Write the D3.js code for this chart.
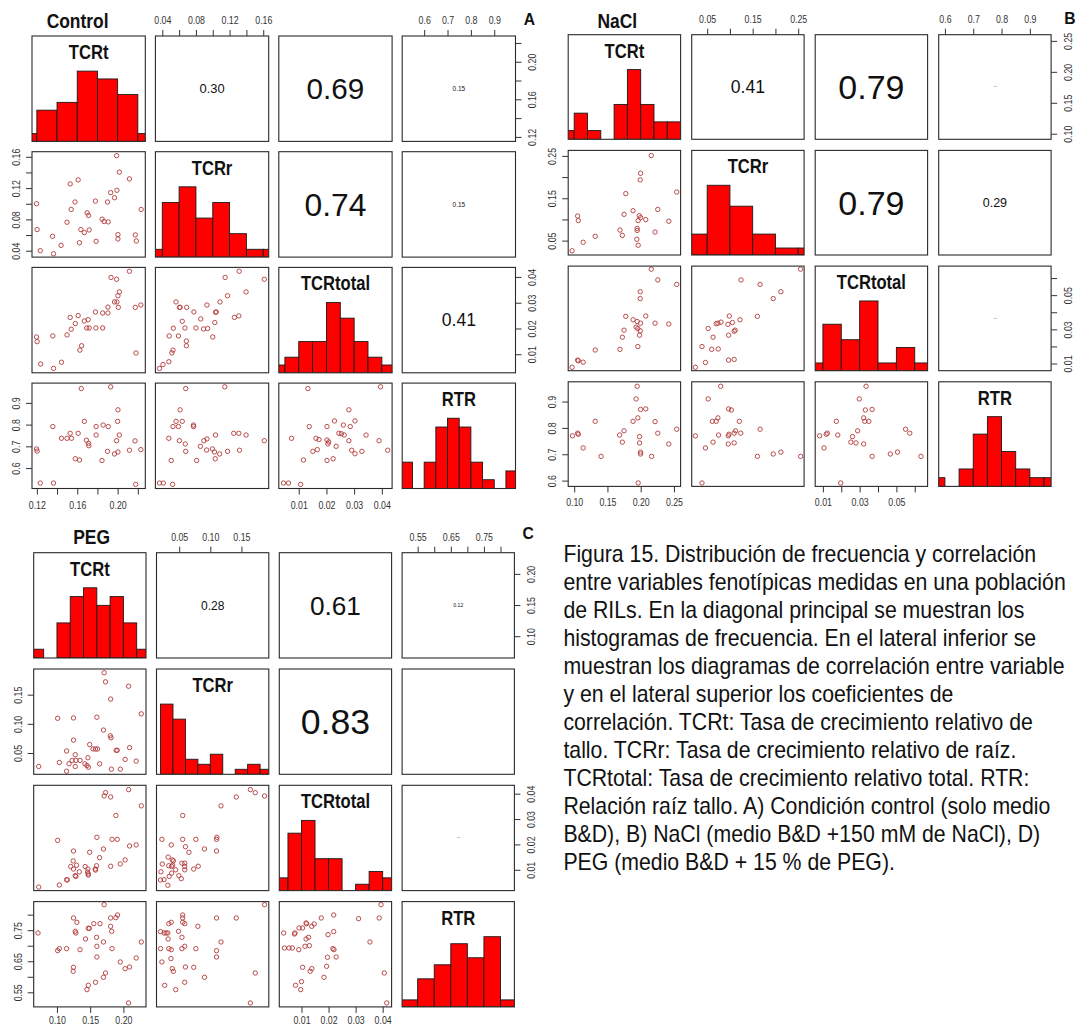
<!DOCTYPE html>
<html>
<head>
<meta charset="utf-8">
<script src="https://cdn.jsdelivr.net/npm/d3@7"></script>
<style>
  body { margin: 0; background: #fff; }
  svg text { font-family: "Liberation Sans", Arial, Helvetica, sans-serif; }
</style>
</head>
<body>
<svg id="fig" width="1079" height="1027"></svg>
<script>
// ---------------------------------------------------------------- data
var vars = ["TCRt", "TCRr", "TCRtotal", "RTR"];

// --- A) Control
var ctlDomain = [[0.1152, 0.2274], [0.0318, 0.1665], [0.0028, 0.0437], [0.506, 0.991]];
var ctlTicks = [[0.12, 0.14, 0.16, 0.18, 0.20, 0.22], [0.04, 0.06, 0.08, 0.10, 0.12, 0.14, 0.16], [0.01, 0.02, 0.03, 0.04], [0.6, 0.7, 0.8, 0.9]];
var ctlTickLabels = [["0.12", "", "0.16", "", "0.20", ""], ["0.04", "", "0.08", "", "0.12", "", "0.16"], ["0.01", "0.02", "0.03", "0.04"], ["0.6", "0.7", "0.8", "0.9"]];
var ctlBinStart = [0.10, 0.02, 0.0, 0.50];
var ctlBinWidth = [0.02, 0.02, 0.005, 0.05];
var ctlCounts = [[1, 4, 5, 9, 8, 6, 1], [1, 7, 9, 5, 7, 3, 1, 1], [1, 2, 4, 4, 9, 7, 4, 2, 1], [3, 0, 3, 7, 8, 7, 3, 1, 0, 2]];
var ctlCor = [0.30, 0.69, 0.15, 0.74, 0.15, 0.41];   // (1,2) (1,3) (1,4) (2,3) (2,4) (3,4)
var ctlP10 = [[0.199,0.1614],[0.2017,0.1403],[0.2117,0.1318],[0.153,0.1253],[0.1609,0.1305],[0.1931,0.1142],[0.1993,0.1172],[0.1969,0.1077],[0.1197,0.1],[0.1578,0.1022],[0.178,0.1034],[0.19,0.1022],[0.154,0.0927],[0.2233,0.0927],[0.1698,0.0884],[0.1712,0.085],[0.1499,0.0764],[0.1846,0.0803],[0.1866,0.0773],[0.1907,0.0768],[0.1203,0.067],[0.1636,0.067],[0.1718,0.0665],[0.167,0.0631],[0.1622,0.0502],[0.1787,0.052],[0.2003,0.0605],[0.2003,0.055],[0.2175,0.0601],[0.2185,0.0524],[0.1355,0.0584],[0.144,0.0468],[0.1234,0.04],[0.1365,0.0361]];
var ctlP20 = [[0.1197,0.0167],[0.1203,0.0149],[0.1238,0.0062],[0.1358,0.0171],[0.1365,0.0045],[0.1444,0.0069],[0.1499,0.0175],[0.153,0.0243],[0.154,0.0197],[0.1581,0.0219],[0.1609,0.025],[0.1626,0.0116],[0.1643,0.0133],[0.167,0.0229],[0.1694,0.0202],[0.1718,0.0202],[0.178,0.0264],[0.1784,0.0202],[0.1852,0.026],[0.1852,0.0202],[0.1904,0.026],[0.1904,0.0283],[0.1935,0.0398],[0.1969,0.0303],[0.199,0.0391],[0.1993,0.0303],[0.2003,0.0327],[0.2017,0.0342],[0.2007,0.0282],[0.2117,0.0422],[0.2175,0.0282],[0.2182,0.0105],[0.223,0.0291],[0.1708,0.0234]];
var ctlP30 = [[0.164,0.966],[0.1931,0.974],[0.2003,0.868],[0.2,0.815],[0.199,0.726],[0.2003,0.674],[0.2017,0.752],[0.1358,0.791],[0.153,0.76],[0.1444,0.737],[0.1499,0.737],[0.1543,0.737],[0.1609,0.76],[0.167,0.815],[0.1691,0.728],[0.1712,0.714],[0.1715,0.703],[0.1787,0.752],[0.1787,0.791],[0.1856,0.798],[0.1907,0.791],[0.1845,0.635],[0.19,0.677],[0.1969,0.665],[0.1581,0.643],[0.1622,0.637],[0.2117,0.682],[0.2172,0.725],[0.223,0.685],[0.1197,0.688],[0.1203,0.678],[0.1234,0.531],[0.1365,0.531],[0.2179,0.525]];
var ctlP21 = [[0.0367,0.0045],[0.0408,0.006],[0.0478,0.0071],[0.0514,0.0105],[0.0527,0.0116],[0.0482,0.0171],[0.0531,0.0201],[0.0563,0.0303],[0.0604,0.0282],[0.0612,0.0282],[0.0637,0.0228],[0.0669,0.0202],[0.0686,0.0133],[0.0686,0.0151],[0.069,0.0282],[0.0592,0.0171],[0.0776,0.0264],[0.08,0.0202],[0.0857,0.0237],[0.089,0.0198],[0.0931,0.0291],[0.0939,0.02],[0.1,0.0167],[0.1024,0.0223],[0.1033,0.0263],[0.1041,0.0264],[0.1086,0.0303],[0.1147,0.0398],[0.1176,0.0327],[0.1257,0.0243],[0.131,0.0249],[0.1314,0.0422],[0.1396,0.0342],[0.1612,0.0391]];
var ctlP31 = [[0.0678,0.966],[0.1143,0.974],[0.0612,0.868],[0.0563,0.815],[0.0637,0.815],[0.0527,0.791],[0.0592,0.791],[0.0771,0.791],[0.0771,0.798],[0.0478,0.737],[0.0604,0.726],[0.0673,0.711],[0.0853,0.7],[0.0894,0.726],[0.0931,0.734],[0.1033,0.752],[0.1249,0.76],[0.131,0.76],[0.1396,0.752],[0.1612,0.726],[0.0506,0.635],[0.0678,0.677],[0.0808,0.635],[0.0927,0.683],[0.0996,0.688],[0.102,0.674],[0.1029,0.643],[0.1082,0.665],[0.1176,0.677],[0.1318,0.682],[0.0367,0.531],[0.0412,0.531],[0.0522,0.525]];
var ctlP32 = [[0.0133,0.966],[0.0395,0.974],[0.0281,0.868],[0.0138,0.791],[0.0202,0.791],[0.0229,0.817],[0.0261,0.798],[0.0303,0.817],[0.0286,0.791],[0.0074,0.737],[0.0162,0.737],[0.0173,0.731],[0.0202,0.729],[0.0205,0.711],[0.0208,0.72],[0.0235,0.7],[0.0245,0.76],[0.0254,0.758],[0.0264,0.752],[0.0281,0.726],[0.0343,0.752],[0.039,0.726],[0.0117,0.637],[0.0151,0.677],[0.0167,0.685],[0.0202,0.635],[0.0224,0.643],[0.0291,0.682],[0.0303,0.666],[0.0328,0.677],[0.0421,0.682],[0.0045,0.531],[0.0063,0.531],[0.0107,0.525]];

// --- B) NaCl
var naclDomain = [[0.091, 0.260], [0.016, 0.263], [0.0058, 0.067], [0.578, 0.975]];
var naclTicks = [[0.10, 0.15, 0.20, 0.25], [0.05, 0.10, 0.15, 0.20, 0.25], [0.01, 0.02, 0.03, 0.04, 0.05, 0.06], [0.6, 0.7, 0.8, 0.9]];
var naclTickLabels = [["0.10", "0.15", "0.20", "0.25"], ["0.05", "", "0.15", "", "0.25"], ["0.01", "", "0.03", "", "0.05", ""], ["0.6", "0.7", "0.8", "0.9"]];
var naclBinStart = [0.08, 0.0, 0.0, 0.55];
var naclBinWidth = [0.02, 0.05, 0.01, 0.05];
var naclCounts = [[1, 3, 1, 0, 4, 8, 4, 2, 2], [3, 10, 7, 3, 1, 1], [1, 6, 4, 9, 1, 3, 1], [1, 0, 2, 6, 8, 4, 2, 1, 1]];
var naclCor = [0.41, 0.79, 0.03, 0.79, 0.29, 0.03];
var naclP10 = [[0.2159,0.2508],[0.1998,0.2089],[0.1993,0.1934],[0.1776,0.161],[0.2542,0.1647],[0.175,0.112],[0.1885,0.1205],[0.2257,0.1236],[0.1052,0.1081],[0.1062,0.0973],[0.1978,0.1089],[0.1998,0.1043],[0.2076,0.0996],[0.1962,0.0973],[0.2423,0.0957],[0.1688,0.0748],[0.1724,0.0624],[0.1947,0.0787],[0.1947,0.074],[0.2216,0.0702],[0.1316,0.0601],[0.1135,0.0461],[0.1942,0.0531],[0.1962,0.0391],[0.0969,0.026]];
var naclP20 = [[0.2159,0.0652],[0.2257,0.0589],[0.2542,0.0563],[0.1993,0.052],[0.1993,0.048],[0.1776,0.0376],[0.2076,0.0378],[0.1885,0.0356],[0.1947,0.0346],[0.1998,0.0336],[0.1957,0.0305],[0.2216,0.0336],[0.2423,0.0331],[0.175,0.0295],[0.1724,0.0254],[0.1993,0.0291],[0.1983,0.0266],[0.1316,0.0179],[0.1688,0.0183],[0.1957,0.0199],[0.1052,0.012],[0.1062,0.0116],[0.1135,0.0108],[0.0969,0.0078],[0.1931,0.0313]];
var naclP30 = [[0.1947,0.958],[0.1931,0.91],[0.1998,0.87],[0.2076,0.872],[0.1885,0.825],[0.1957,0.838],[0.2216,0.824],[0.1316,0.825],[0.1052,0.78],[0.1062,0.776],[0.0974,0.77],[0.1683,0.773],[0.175,0.789],[0.1724,0.746],[0.1983,0.767],[0.1983,0.743],[0.2257,0.78],[0.2423,0.739],[0.1135,0.724],[0.1404,0.692],[0.1998,0.708],[0.1998,0.701],[0.2164,0.692],[0.1962,0.591],[0.2542,0.795]];
var naclP21 = [[0.2553,0.0652],[0.1245,0.0589],[0.1663,0.0563],[0.212,0.052],[0.1952,0.048],[0.1603,0.0376],[0.0987,0.0378],[0.1222,0.0356],[0.0736,0.0336],[0.0698,0.0333],[0.0804,0.0342],[0.1055,0.034],[0.0956,0.0329],[0.0523,0.0305],[0.1116,0.0295],[0.1093,0.0289],[0.0629,0.0254],[0.0386,0.0199],[0.0599,0.0183],[0.0743,0.0185],[0.0462,0.0106],[0.0971,0.012],[0.1093,0.0124],[0.0241,0.0078],[0.0971,0.0266]];
var naclP31 = [[0.0797,0.958],[0.0523,0.91],[0.0971,0.872],[0.1032,0.868],[0.0736,0.838],[0.0614,0.825],[0.0698,0.825],[0.1207,0.825],[0.0241,0.77],[0.0462,0.724],[0.0629,0.746],[0.0751,0.773],[0.0964,0.77],[0.0979,0.776],[0.1093,0.78],[0.1124,0.789],[0.1238,0.78],[0.1093,0.743],[0.0964,0.739],[0.1663,0.795],[0.1603,0.692],[0.1952,0.701],[0.212,0.708],[0.2553,0.692],[0.0386,0.591]];
var naclP32 = [[0.0335,0.958],[0.0298,0.91],[0.0331,0.868],[0.0368,0.87],[0.0322,0.838],[0.0328,0.825],[0.035,0.825],[0.0173,0.825],[0.0082,0.77],[0.0118,0.776],[0.0124,0.78],[0.0181,0.773],[0.0289,0.789],[0.0106,0.724],[0.0252,0.746],[0.0261,0.767],[0.028,0.743],[0.0322,0.739],[0.055,0.795],[0.0573,0.78],[0.0368,0.692],[0.0467,0.701],[0.0506,0.708],[0.0634,0.692],[0.0197,0.591]];

// --- C) PEG
var pegDomain = [[0.065, 0.234], [0.0135, 0.194], [0.0018, 0.0433], [0.503, 0.842]];
var pegTicks = [[0.10, 0.15, 0.20], [0.05, 0.10, 0.15], [0.01, 0.02, 0.03, 0.04], [0.55, 0.60, 0.65, 0.70, 0.75, 0.80]];
var pegTickLabels = [["0.10", "0.15", "0.20"], ["0.05", "0.10", "0.15"], ["0.01", "0.02", "0.03", "0.04"], ["0.55", "", "0.65", "", "0.75", ""]];
var pegBinStart = [0.06, 0.02, 0.0, 0.50];
var pegBinWidth = [0.02, 0.02, 0.005, 0.05];
var pegCounts = [[1, 0, 4, 7, 8, 6, 7, 4, 1], [14, 11, 3, 2, 4, 0, 1, 2, 1], [2, 9, 11, 5, 5, 0, 1, 3, 2], [1, 4, 6, 9, 7, 10, 1]];
var pegCor = [0.28, 0.61, 0.12, 0.83, -0.05, 0.03];
var pegP10 = [[0.171,0.1876],[0.1731,0.172],[0.2078,0.1645],[0.1808,0.1425],[0.101,0.1095],[0.1249,0.1101],[0.1601,0.1113],[0.2269,0.1171],[0.17,0.0893],[0.1803,0.0795],[0.1813,0.076],[0.1249,0.072],[0.1492,0.0645],[0.1544,0.0569],[0.158,0.0569],[0.1611,0.0569],[0.1891,0.0546],[0.1907,0.0546],[0.2093,0.0592],[0.1145,0.0535],[0.1275,0.0471],[0.1228,0.0373],[0.1285,0.0373],[0.1347,0.0373],[0.1466,0.0419],[0.142,0.0315],[0.1036,0.0338],[0.1451,0.0286],[0.2192,0.0361],[0.2026,0.039],[0.1642,0.0315],[0.0725,0.0269],[0.1275,0.0269],[0.1472,0.0257],[0.1819,0.0223],[0.1953,0.0223],[0.1145,0.0188],[0.1181,0.0315]];
var pegP20 = [[0.2078,0.0416],[0.1731,0.0404],[0.171,0.0391],[0.1808,0.0387],[0.2269,0.0352],[0.1886,0.0314],[0.101,0.0216],[0.1601,0.0228],[0.1829,0.022],[0.1907,0.022],[0.1249,0.0174],[0.1492,0.0169],[0.17,0.0182],[0.2093,0.0194],[0.2192,0.0198],[0.1642,0.0148],[0.1244,0.0135],[0.2026,0.0139],[0.1295,0.0118],[0.1953,0.0123],[0.1425,0.0113],[0.1596,0.0116],[0.1249,0.0103],[0.1466,0.0103],[0.1575,0.0103],[0.1337,0.0092],[0.1461,0.0091],[0.1472,0.0084],[0.158,0.0099],[0.1275,0.0077],[0.1285,0.0074],[0.1145,0.0061],[0.1155,0.006],[0.1036,0.004],[0.0725,0.0032],[0.1808,0.0114],[0.1207,0.0113],[0.1472,0.0079]];
var pegP30 = [[0.171,0.8322],[0.1249,0.7893],[0.1912,0.7989],[0.1886,0.7903],[0.1808,0.7893],[0.13,0.7753],[0.1554,0.771],[0.1648,0.771],[0.1275,0.7464],[0.1285,0.741],[0.1472,0.756],[0.1487,0.756],[0.1808,0.7624],[0.1824,0.7464],[0.0715,0.741],[0.1596,0.727],[0.143,0.7217],[0.101,0.6841],[0.1036,0.6906],[0.1145,0.6906],[0.1347,0.6873],[0.1829,0.6906],[0.1601,0.6981],[0.17,0.712],[0.1601,0.6637],[0.1249,0.6305],[0.1244,0.6176],[0.1953,0.6476],[0.2026,0.6262],[0.2093,0.6315],[0.2192,0.6605],[0.2269,0.712],[0.1731,0.6122],[0.17,0.5983],[0.158,0.5822],[0.1472,0.5725],[0.1451,0.5586],[0.2078,0.5157]];
var pegP21 = [[0.1644,0.0416],[0.1722,0.0404],[0.1872,0.0391],[0.1417,0.0387],[0.1172,0.0352],[0.0556,0.0314],[0.0222,0.022],[0.0556,0.022],[0.0767,0.022],[0.11,0.022],[0.1106,0.0228],[0.0372,0.0198],[0.06,0.0191],[0.0656,0.0169],[0.0906,0.0182],[0.11,0.0174],[0.0228,0.0123],[0.0322,0.015],[0.0389,0.0139],[0.0406,0.0135],[0.0544,0.0126],[0.0589,0.0126],[0.0333,0.0116],[0.0378,0.0113],[0.0394,0.0118],[0.0589,0.0113],[0.0806,0.0114],[0.0733,0.0103],[0.0444,0.01],[0.0206,0.0092],[0.0378,0.0087],[0.0589,0.01],[0.0494,0.0077],[0.0533,0.0065],[0.0256,0.0061],[0.0339,0.0074],[0.02,0.006],[0.0317,0.0039]];
var pegP31 = [[0.1872,0.8322],[0.0556,0.7989],[0.0556,0.7893],[0.11,0.7893],[0.1417,0.7893],[0.0333,0.771],[0.0372,0.7753],[0.0556,0.7753],[0.0589,0.771],[0.08,0.7624],[0.02,0.7453],[0.0256,0.741],[0.0289,0.741],[0.0317,0.741],[0.0489,0.7464],[0.0544,0.727],[0.0322,0.7217],[0.0589,0.6981],[0.02,0.6906],[0.0333,0.6906],[0.0372,0.6873],[0.0544,0.6906],[0.0767,0.6906],[0.11,0.6841],[0.1172,0.712],[0.11,0.6637],[0.0367,0.6584],[0.0222,0.6476],[0.0389,0.6262],[0.0406,0.6176],[0.06,0.6315],[0.0733,0.6305],[0.0906,0.5983],[0.1722,0.6122],[0.0267,0.5725],[0.0589,0.5822],[0.0444,0.5586],[0.1644,0.5157]];
var pegP32 = [[0.0394,0.8322],[0.0219,0.7989],[0.0311,0.7871],[0.0387,0.7893],[0.0173,0.7893],[0.0119,0.771],[0.0117,0.7732],[0.0147,0.77],[0.0138,0.7624],[0.0104,0.7571],[0.0091,0.7571],[0.0076,0.741],[0.0074,0.7378],[0.0034,0.741],[0.0037,0.6927],[0.0054,0.6927],[0.0066,0.6927],[0.009,0.6873],[0.0113,0.6981],[0.0129,0.7002],[0.0126,0.727],[0.0117,0.7217],[0.0219,0.7453],[0.0198,0.7356],[0.0353,0.712],[0.0216,0.6906],[0.022,0.6873],[0.0228,0.6637],[0.0196,0.6627],[0.0104,0.6305],[0.0138,0.6262],[0.0132,0.6176],[0.0193,0.6337],[0.0183,0.5983],[0.0078,0.5725],[0.01,0.5843],[0.0097,0.5586],[0.0406,0.6122],[0.0415,0.5157]];

var captionLines = [
  "Figura 15. Distribución de frecuencia y correlación",
  "entre variables fenotípicas medidas en una población",
  "de RILs. En la diagonal principal se muestran los",
  "histogramas de frecuencia. En el lateral inferior se",
  "muestran los diagramas de correlación entre variable",
  "y en el lateral superior los coeficientes de",
  "correlación. TCRt: Tasa de crecimiento relativo de",
  "tallo. TCRr: Tasa de crecimiento relativo de raíz.",
  "TCRtotal: Tasa de crecimiento relativo total. RTR:",
  "Relación raíz tallo. A) Condición control (solo medio",
  "B&D), B) NaCl (medio B&D +150 mM de NaCl), D)",
  "PEG (medio B&D + 15 % de PEG)."
];

// ---------------------------------------------------------------- layout
var panels = [
  { id: "A", title: "Control", domains: ctlDomain, ticks: ctlTicks, tickLabels: ctlTickLabels,
    binStart: ctlBinStart, binWidth: ctlBinWidth, counts: ctlCounts, cor: ctlCor,
    pts: { "1-0": ctlP10, "2-0": ctlP20, "3-0": ctlP30, "2-1": ctlP21, "3-1": ctlP31, "3-2": ctlP32 },
    x0: 32, y0: 36, cw: 113.3, ch: 105.4, px: 123.4, py: 115.7, padBottom: 7,
    tx: 77.6, ty: 28.3, lx: 529.4, ly: 25 },
  { id: "B", title: "NaCl", domains: naclDomain, ticks: naclTicks, tickLabels: naclTickLabels,
    binStart: naclBinStart, binWidth: naclBinWidth, counts: naclCounts, cor: naclCor,
    pts: { "1-0": naclP10, "2-0": naclP20, "3-0": naclP30, "2-1": naclP21, "3-1": naclP31, "3-2": naclP32 },
    x0: 568.2, y0: 34.7, cw: 112.4, ch: 104.6, px: 123.5, py: 115.7, padBottom: 7,
    tx: 617.3, ty: 28.3, lx: 1069.8, ly: 24 },
  { id: "C", title: "PEG", domains: pegDomain, ticks: pegTicks, tickLabels: pegTickLabels,
    binStart: pegBinStart, binWidth: pegBinWidth, counts: pegCounts, cor: pegCor,
    pts: { "1-0": pegP10, "2-0": pegP20, "3-0": pegP30, "2-1": pegP21, "3-1": pegP31, "3-2": pegP32 },
    x0: 33.7, y0: 552.7, cw: 112.3, ch: 105.3, px: 122.8, py: 116.3, padBottom: 4,
    tx: 91.6, ty: 544.3, lx: 528.2, ly: 539 }
];

var svg = d3.select("#fig");
svg.append("rect").attr("width", 1079).attr("height", 1027).attr("fill", "#fff");

// index of the (i,j) pair in the correlation arrays
function corIndex(i, j) {
  var k = 0;
  for (var a = 0; a < 4; a++) for (var b = a + 1; b < 4; b++) { if (a === i && b === j) return k; k++; }
  return -1;
}

function drawPairs(p) {
  var n = vars.length;
  var sx = p.domains.map(function(d) { return d3.scaleLinear().domain(d).range([0, p.cw]); });
  var sy = p.domains.map(function(d) { return d3.scaleLinear().domain(d).range([p.ch, 0]); });
  var hy = d3.scaleLinear().domain([0, 1.5]).range([p.ch, 0]);   // hist rescaled like panel.hist
  var g = svg.append("g");

  for (var i = 0; i < n; i++) {
    for (var j = 0; j < n; j++) {
      var cell = g.append("g")
        .attr("transform", "translate(" + (p.x0 + j * p.px) + "," + (p.y0 + i * p.py) + ")");
      var clipId = "clip" + p.id + i + j;
      cell.append("clipPath").attr("id", clipId)
        .append("rect").attr("width", p.cw).attr("height", p.ch);
      var inner = cell.append("g").attr("clip-path", "url(#" + clipId + ")");

      if (i === j) {
        // histogram
        var counts = p.counts[i], mx = d3.max(counts);
        var bins = counts.map(function(c, b) {
          return { x0: p.binStart[i] + b * p.binWidth[i], x1: p.binStart[i] + (b + 1) * p.binWidth[i], c: c };
        }).filter(function(d) { return d.c > 0; });
        var xs = sx[i];
        inner.selectAll("rect.bar").data(bins).enter().append("rect")
          .attr("class", "bar")
          .attr("x", function(d) { return xs(d.x0); })
          .attr("width", function(d) { return xs(d.x1) - xs(d.x0); })
          .attr("y", function(d) { return hy(d.c / mx); })
          .attr("height", function(d) { return p.ch - hy(d.c / mx); })
          .attr("fill", "#ff0000")
          .attr("stroke", "#1a1a1a")
          .attr("stroke-width", 0.9);
        cell.append("text")
          .attr("transform", "translate(" + (p.cw / 2) + ",23) scale(0.83,1)")
          .attr("text-anchor", "middle")
          .attr("font-size", 20)
          .attr("font-weight", "bold")
          .attr("fill", "#111")
          .text(vars[i]);
      } else if (i > j) {
        // scatter
        var xsc = sx[j], ysc = sy[i];
        inner.selectAll("circle").data(p.pts[i + "-" + j]).enter().append("circle")
          .attr("cx", function(d) { return xsc(d[0]); })
          .attr("cy", function(d) { return ysc(d[1]); })
          .attr("r", 2.2)
          .attr("fill", "none")
          .attr("stroke", "#b23a3a")
          .attr("stroke-width", 0.9);
      } else {
        // correlation text, size proportional to r
        var r = p.cor[corIndex(i, j)];
        if (r > 0) {
          cell.append("text")
            .attr("x", p.cw / 2).attr("y", p.ch / 2)
            .attr("dy", "0.36em")
            .attr("text-anchor", "middle")
            .attr("font-size", 43 * r)
            .attr("fill", "#111")
            .text(d3.format(".2f")(r));
        }
      }
      cell.append("rect")
        .attr("width", p.cw).attr("height", p.ch)
        .attr("fill", "none").attr("stroke", "#2a2a2a").attr("stroke-width", 1.1);
    }
  }

  // axes, alternating like R pairs()
  function fmt(k) {
    return function(v) {
      var idx = p.ticks[k].indexOf(v);
      return idx < 0 ? "" : p.tickLabels[k][idx];
    };
  }
  function styleAxis(ax, rotated, off) {
    ax.select(".domain").remove();
    ax.selectAll(".tick line").attr("stroke", "#333");
    var t = ax.selectAll(".tick text").attr("fill", "#333").attr("font-size", 10);
    if (rotated) {
      t.attr("transform", "rotate(-90) scale(0.88,1)")
        .attr("x", 0).attr("y", off).attr("dy", "0em")
        .attr("text-anchor", "middle");
    } else {
      t.attr("transform", "scale(0.88,1)");
    }
  }
  for (var k = 0; k < n; k++) {
    var cx = p.x0 + k * p.px, cy = p.y0 + k * p.py;
    var ax;
    if (k % 2 === 1) {
      ax = g.append("g").attr("transform", "translate(" + cx + "," + p.y0 + ")")
        .call(d3.axisTop(sx[k]).tickValues(p.ticks[k]).tickFormat(fmt(k)).tickSize(6).tickPadding(6));
      styleAxis(ax, false);
      ax = g.append("g").attr("transform", "translate(" + p.x0 + "," + cy + ")")
        .call(d3.axisLeft(sy[k]).tickValues(p.ticks[k]).tickFormat(fmt(k)).tickSize(6));
      styleAxis(ax, true, -12);
    } else {
      ax = g.append("g").attr("transform", "translate(" + cx + "," + (p.y0 + 3 * p.py + p.ch) + ")")
        .call(d3.axisBottom(sx[k]).tickValues(p.ticks[k]).tickFormat(fmt(k)).tickSize(6).tickPadding(p.padBottom));
      styleAxis(ax, false);
      ax = g.append("g").attr("transform", "translate(" + (p.x0 + 3 * p.px + p.cw) + "," + cy + ")")
        .call(d3.axisRight(sy[k]).tickValues(p.ticks[k]).tickFormat(fmt(k)).tickSize(6));
      styleAxis(ax, true, 20.5);
    }
  }

  // panel title and letter
  svg.append("text")
    .attr("transform", "translate(" + p.tx + "," + p.ty + ") scale(0.83,1)")
    .attr("text-anchor", "middle").attr("font-size", 21).attr("font-weight", "bold")
    .attr("fill", "#111").text(p.title);
  svg.append("text")
    .attr("transform", "translate(" + p.lx + "," + p.ly + ") scale(0.95,1)")
    .attr("text-anchor", "middle").attr("font-size", 16.5).attr("font-weight", "bold")
    .attr("fill", "#111").text(p.id);
}

panels.forEach(drawPairs);

// caption
var cap = svg.append("g");
cap.selectAll("text").data(captionLines).enter().append("text")
  .attr("transform", function(d, i) { return "translate(563.4," + (561.5 + i * 28.0) + ") scale(0.925,1)"; })
  .attr("font-size", 23)
  .attr("fill", "#111")
  .text(function(d) { return d; });
</script>
</body>
</html>
